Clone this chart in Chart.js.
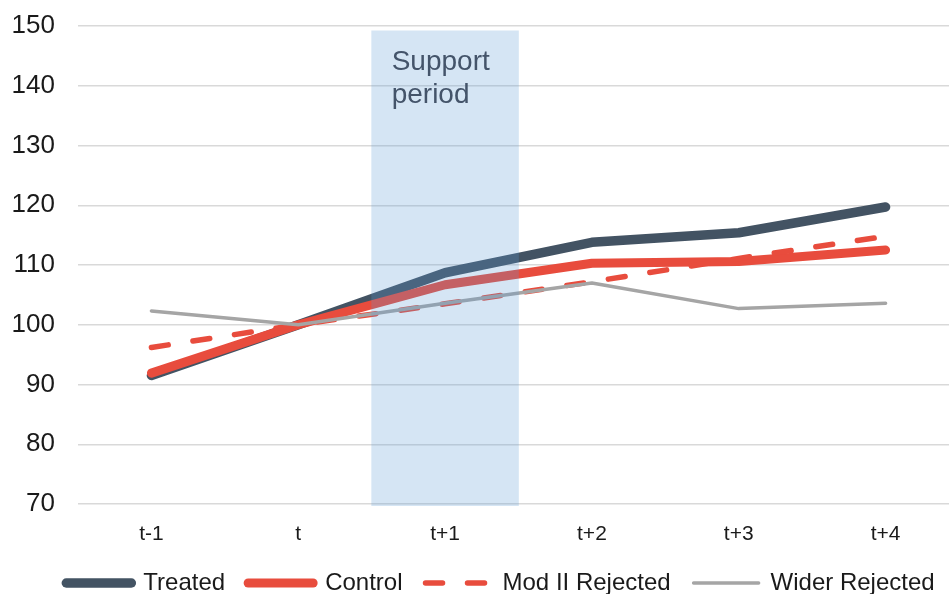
<!DOCTYPE html>
<html>
<head>
<meta charset="utf-8">
<script src="https://cdn.jsdelivr.net/npm/chart.js@4/dist/chart.umd.min.js"></script>
<style>
  html, body { margin: 0; padding: 0; overflow: hidden; background: #fff; }
  #wrap { width: 991px; height: 605px; }
</style>
</head>
<body>
<div id="wrap"><canvas id="progressChart"></canvas></div>
<script>
// values
const periods = ['t-1', 't', 't+1', 't+2', 't+3', 't+4'];
const treated = [91.5, 100, 108.7, 113.8, 115.4, 119.7];
const control = [91.9, 100, 106.7, 110.3, 110.6, 112.5];
const modIIRejected = [96.2, 100, 103.5, 107.2, 111.1, 114.8];
const widerRejected = [102.3, 100, 103.6, 107.0, 102.7, 103.6];
// support period band: low and high ends, on t+1
const supportBand = [null, null, [69.7, 149.2], null, null, null];
const supportLabel = ['Support', 'period'];

const FONT = 'Liberation Sans, Arial, sans-serif';

// writes "Support period" inside the shaded band
const bandText = {
  id: 'bandText',
  afterDatasetsDraw(chart) {
    const bar = chart.getDatasetMeta(4).data[2];
    if (!bar) return;
    const left = bar.x - bar.width / 2;
    const top = chart.chartArea.top;
    const ctx = chart.ctx;
    ctx.save();
    ctx.font = '28px ' + FONT;
    ctx.fillStyle = '#44546a';
    ctx.textAlign = 'left';
    ctx.textBaseline = 'alphabetic';
    ctx.fillText(supportLabel[0], left + 20, top + 44);
    ctx.fillText(supportLabel[1], left + 20, top + 77);
    ctx.restore();
  }
};

// legend sits a bit right of the plot centre in the original
const legendShift = {
  id: 'legendShift',
  afterLayout(chart) {
    chart.legend.left += 21;
    chart.legend.right += 21;
  }
};

const ctx = document.getElementById('progressChart').getContext('2d');

const chart = new Chart(ctx, {
  type: 'line',
  data: {
    labels: periods,
    datasets: [
      {
        label: 'Treated',
        data: treated,
        borderColor: '#435363',
        backgroundColor: '#435363',
        borderWidth: 9.5,
        order: 4
      },
      {
        label: 'Control',
        data: control,
        borderColor: '#e84c3d',
        backgroundColor: '#e84c3d',
        borderWidth: 9,
        order: 3
      },
      {
        label: 'Mod II Rejected',
        data: modIIRejected,
        borderColor: '#e84c3d',
        backgroundColor: '#e84c3d',
        borderWidth: 5.5,
        borderDash: [17, 25],
        order: 2
      },
      {
        label: 'Wider Rejected',
        data: widerRejected,
        borderColor: '#a5a5a5',
        backgroundColor: '#a5a5a5',
        borderWidth: 3.5,
        order: 1
      },
      {
        type: 'bar',
        label: 'band',
        data: supportBand,
        backgroundColor: 'rgba(91,155,213,0.26)',
        borderWidth: 0,
        barPercentage: 1,
        categoryPercentage: 1,
        clip: false,
        order: 0
      }
    ]
  },
  options: {
    responsive: true,
    maintainAspectRatio: false,
    animation: false,
    layout: { padding: { top: 26, right: 32, left: 0, bottom: 0 } },
    elements: {
      line: { tension: 0, borderCapStyle: 'round', borderJoinStyle: 'round' },
      point: { radius: 0, hoverRadius: 0 }
    },
    scales: {
      x: {
        offset: true,
        afterFit(scale) { scale.height = 44; },
        grid: { display: false, drawTicks: false },
        border: { display: false },
        ticks: { padding: 18, color: '#1a1a1a', font: { family: FONT, size: 21 } }
      },
      y: {
        min: 70,
        max: 150,
        afterFit(scale) {
          scale.width = 78;
          scale.paddingTop = 0;
          scale.paddingBottom = 0;
        },
        grid: { color: '#d9d9d9', lineWidth: 1.5, drawTicks: false },
        border: { display: false },
        ticks: { stepSize: 10, padding: 23, color: '#1a1a1a', font: { family: FONT, size: 26 } }
      }
    },
    plugins: {
      tooltip: { enabled: false },
      legend: {
        position: 'bottom',
        labels: {
          usePointStyle: true,
          pointStyle: 'line',
          pointStyleWidth: 65,
          boxHeight: 10,
          padding: 23,
          color: '#1a1a1a',
          font: { family: FONT, size: 24 },
          filter: item => item.datasetIndex !== 4,
          sort: (a, b) => a.datasetIndex - b.datasetIndex,
          generateLabels(chart) {
            const items = Chart.defaults.plugins.legend.labels.generateLabels(chart);
            return items.map(item => {
              const ds = chart.data.datasets[item.datasetIndex];
              item.lineDash = ds.borderDash || [];
              item.lineCap = 'round';
              item.lineWidth = ds.borderWidth;
              item.strokeStyle = ds.borderColor;
              return item;
            });
          }
        }
      }
    }
  },
  plugins: [bandText, legendShift]
});
</script>
</body>
</html>
